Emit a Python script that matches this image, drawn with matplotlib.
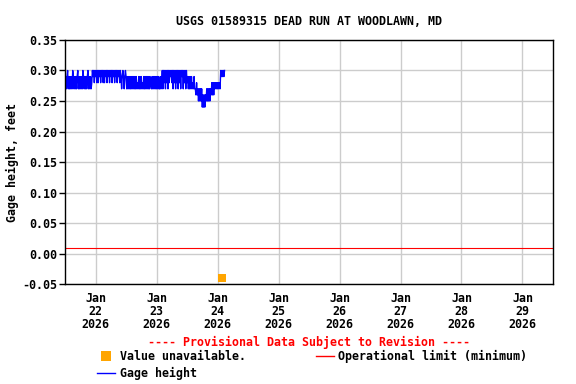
import numpy as np
import pandas as pd
import matplotlib
matplotlib.use("Agg")
import matplotlib.pyplot as plt
from matplotlib.lines import Line2D

# gage height in hundredths of a foot above 0.20 ('0' = 0.30), 15-minute readings
# starting Jan 21 2026 12:00
seg_a = "797907979797097979790797979709797979079797"
seg_b = "80908090808090809080809080908090809080908090809080908"[:47]
seg_c = "790979097979797979797979787979797879797979797987979797979797797"
seg_d = "80708070807080908070807080708070907080708070809"[:41]
seg_e = "979797978797"
seg_f = "76867" + "575757" + "464646" + "57575757" + "686868" + "787878787"
seg_g = "0909090"
gage_start = "2026-01-21 12:00"

unavail_time = "2026-01-24 01:45"
unavail_value = -0.04
op_limit = 0.01

title = "USGS 01589315 DEAD RUN AT WOODLAWN, MD"
ylabel = "Gage height, feet"
yticks = [-0.05, 0.00, 0.05, 0.10, 0.15, 0.20, 0.25, 0.30, 0.35]
xticks = pd.date_range("2026-01-22", "2026-01-29", freq="D")

digits = seg_a + seg_b + seg_c + seg_d + seg_e + seg_f + seg_g
gage = np.array([0.30 if c == "0" else 0.20 + int(c) / 100 for c in digits])
times = pd.date_range(gage_start, periods=len(gage), freq="15min")

mono = "DejaVu Sans Mono"
plt.rcParams["font.family"] = mono
plt.rcParams["font.weight"] = "bold"
fs = 8.4

fig = plt.figure(figsize=(5.76, 3.84), dpi=100)
ax = fig.add_axes([0.113, 0.260, 0.847, 0.636])

ax.plot(times, gage, color="#0000ff", lw=1)
ax.axhline(op_limit, color="#ff0000", lw=0.8)
ax.plot(pd.to_datetime([unavail_time]), [unavail_value], "s", color="#ffa500", ms=6, mew=0)

ax.set_xlim(pd.Timestamp("2026-01-21 12:00"), pd.Timestamp("2026-01-29 12:00"))
ax.set_ylim(-0.05, 0.35)
ax.set_yticks(yticks)
ax.set_yticklabels(["%.2f" % v for v in yticks], fontsize=fs, fontweight="bold")
ax.set_xticks(xticks)
ax.set_xticklabels([d.strftime("%b\n%d\n%Y") for d in xticks], fontsize=fs,
                   fontweight="bold", linespacing=1.0)
ax.tick_params(axis="y", direction="out", length=4, width=1, pad=2)
ax.tick_params(axis="x", length=0, pad=6)
ax.grid(True, color="#cccccc", lw=1)
ax.set_axisbelow(True)
for s in ax.spines.values():
    s.set_linewidth(1)
    s.set_color("black")

ax.set_title(title, fontsize=fs, fontweight="bold", pad=11)
ax.set_ylabel(ylabel, fontsize=fs, fontweight="bold", labelpad=2)

fig.text(0.537, 1 - 342 / 384, "---- Provisional Data Subject to Revision ----",
         color="#ff0000", fontsize=fs, fontweight="bold", ha="center", va="center")

handles = [
    Line2D([], [], marker="s", ls="none", color="#ffa500", ms=7, mew=0),
    Line2D([], [], color="#0000ff", lw=1),
    Line2D([], [], color="#ff0000", lw=1),
]
labels = ["Value unavailable.", "Gage height", "Operational limit (minimum)"]
fig.legend(handles, labels, ncol=2, frameon=False, loc="upper left",
           bbox_to_anchor=(0.168, 1 - 350 / 384), prop={"family": mono, "weight": "bold", "size": fs},
           handlelength=1.6, handletextpad=0.35, columnspacing=6.0, labelspacing=0.3,
           borderaxespad=0, borderpad=0)

fig.savefig("out.png", dpi=100)
